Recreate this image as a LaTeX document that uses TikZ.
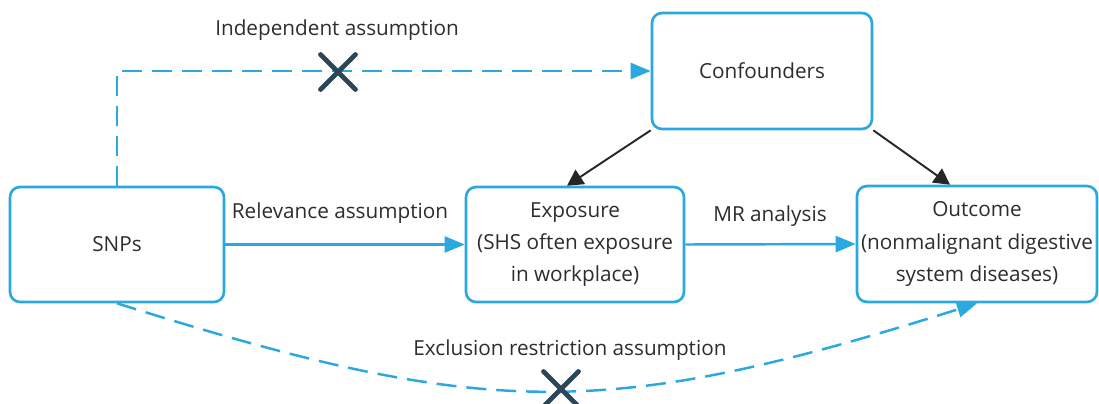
\documentclass[tikz,border=0pt]{standalone}
\usepackage{fontspec}
\setmainfont{Open Sans}
\usetikzlibrary{arrows.meta,shapes.misc}
\definecolor{boxblue}{RGB}{43,168,224}
\definecolor{crossgray}{RGB}{44,72,88}
\definecolor{txtgray}{RGB}{45,45,45}
\begin{document}
\begin{tikzpicture}[x=0.02cm,y=-0.02cm,
		font=\fontsize{11.8}{18.4}\selectfont,
		box/.style={draw=boxblue, line width=1.5pt, rounded corners=0.2cm, align=center, text=txtgray, inner sep=0pt},
		lbl/.style={text=txtgray},
		blueline/.style={draw=boxblue, line width=1.4pt, -{Triangle[length=0.4cm,width=0.32cm]}},
		bluedash/.style={blueline, dash pattern=on 0.4cm off 0.2cm},
		blackline/.style={draw=black!85, line width=1.1pt, -{Triangle[length=0.32cm,width=0.34cm]}},
		nocross/.style={cross out, draw=crossgray, solid, line width=2.8pt, line cap=round, minimum size=0.6cm, inner sep=0pt}]
			\useasboundingbox (0,0) rectangle (1099,403);

			\node[box, minimum width=4.28cm, minimum height=2.30cm] (snps) at (117,244.5) {SNPs};
			\node[box, minimum width=4.36cm, minimum height=2.30cm] (expo) at (575,244.5) {Exposure\\(SHS often exposure\\in workplace)};
			\node[box, minimum width=4.40cm, minimum height=2.32cm] (conf) at (762,71) {Confounders};
			\node[box, minimum width=4.80cm, minimum height=2.32cm] (outc) at (977,244) {Outcome\\(nonmalignant digestive\\system diseases)};

			\draw [blueline] (snps.east) -- (expo.west);
			\draw [blueline] (expo.east) -- (outc.west);
			\draw [bluedash] (snps.north) |- (conf.west);
			\draw [bluedash] (snps.south) .. controls +(371,117) and +(-371,117) .. (outc.south);

			\draw [blackline] (conf.south west) -- ([xshift=-0.16cm]expo.north);
			\draw [blackline] (conf.south east) -- ([xshift=-0.54cm]outc.north);

			\node[nocross] (xindep) at (338,72) {};
			\node[nocross] (xexcl) at (561,389) {};

			\node[lbl] (indep) at (337,30) {Independent assumption};
			\node[lbl] (relev) at (340,213) {Relevance assumption};
			\node[lbl] (mr) at (770,216) {MR analysis};
			\node[lbl] (excl) at (570,350) {Exclusion restriction assumption};
			%\node (n) at (561,420) {};
		\end{tikzpicture}
\end{document}
